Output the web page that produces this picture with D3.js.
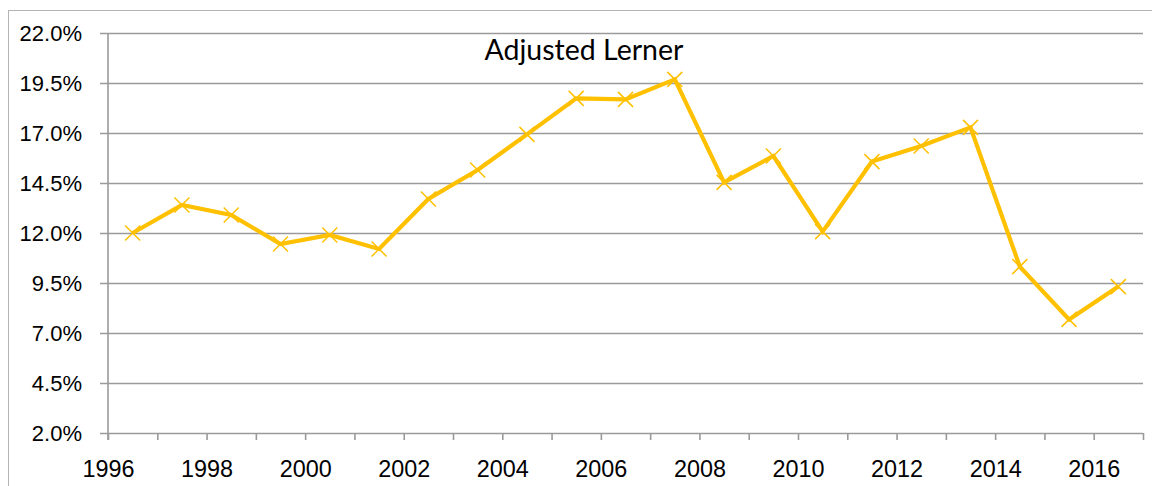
<!DOCTYPE html>
<html>
<head>
<meta charset="utf-8">
<script src="https://cdn.jsdelivr.net/npm/d3@7"></script>
<style>
  html, body { margin: 0; padding: 0; background: #fff; }
  svg { display: block; font-family: Lato, "Open Sans", sans-serif; }
</style>
</head>
<body>
<svg id="chart" width="1152" height="486"></svg>
<script>
// Adjusted Lerner index, annual observations (plotted mid-year)
const years = [1996, 1997, 1998, 1999, 2000, 2001, 2002, 2003, 2004, 2005, 2006,
               2007, 2008, 2009, 2010, 2011, 2012, 2013, 2014, 2015, 2016];
const lerner = [12.0, 13.4, 12.9, 11.45, 11.9, 11.2, 13.7, 15.15, 16.93, 18.73, 18.68,
                19.68, 14.53, 15.85, 12.07, 15.57, 16.35, 17.28, 10.32, 7.68, 9.32];
const yTicks = [2.0, 4.5, 7.0, 9.5, 12.0, 14.5, 17.0, 19.5, 22.0];
const xLabels = [1996, 1998, 2000, 2002, 2004, 2006, 2008, 2010, 2012, 2014, 2016];
const title = "Adjusted Lerner";

const svg = d3.select("#chart");
const margin = { left: 108, right: 9, top: 33, bottom: 53 };
const W = 1152, H = 486;

// outer chart frame
svg.append("rect")
  .attr("x", 8.5).attr("y", 10.5)
  .attr("width", 1160).attr("height", 490)
  .attr("fill", "none").attr("stroke", "#b3b3b3").attr("stroke-width", 1);

const x = d3.scaleLinear().domain([1996, 2017]).range([margin.left, W - margin.right]);
const y = d3.scaleLinear().domain([2, 22]).range([H - margin.bottom, margin.top]);

// horizontal gridlines with outside ticks
const yAxis = svg.append("g")
  .attr("transform", `translate(${margin.left},0)`)
  .call(d3.axisLeft(y).tickValues(yTicks)
    .tickSize(-(W - margin.right - margin.left))
    .tickSizeOuter(0)
    .tickFormat(d => d.toFixed(1) + "%"));
yAxis.select(".domain").remove();
yAxis.selectAll(".tick line")
  .attr("x1", -8)
  .attr("stroke", "#9a9a9a").attr("stroke-width", 1.6);
yAxis.selectAll(".tick text")
  .attr("x", -26)
  .attr("font-size", 22).attr("fill", "#000");

// vertical axis line
svg.append("line")
  .attr("x1", margin.left).attr("x2", margin.left)
  .attr("y1", y(22)).attr("y2", y(2) + 7)
  .attr("stroke", "#9a9a9a").attr("stroke-width", 1.6);

// x axis: ticks every year, labels every other year
const xAxis = svg.append("g")
  .attr("transform", `translate(0,${y(2)})`)
  .call(d3.axisBottom(x).tickValues(d3.range(1996, 2018))
    .tickSize(7).tickSizeOuter(0)
    .tickFormat(d => xLabels.includes(d) ? d : ""));
xAxis.select(".domain").remove();
xAxis.selectAll(".tick line").attr("stroke", "#9a9a9a").attr("stroke-width", 1.6);
xAxis.selectAll(".tick text")
  .attr("y", 27)
  .attr("font-size", 23.4).attr("fill", "#000");

// series line
const pts = years.map((yr, i) => [x(yr + 0.5), y(lerner[i])]);
svg.append("path")
  .datum(pts)
  .attr("d", d3.line())
  .attr("fill", "none")
  .attr("stroke", "#FFC000")
  .attr("stroke-width", 4.2)
  .attr("stroke-linejoin", "miter");

// x-shaped markers
const m = 7.5;
svg.append("g").selectAll("path")
  .data(pts)
  .join("path")
  .attr("d", d => `M${d[0]-m},${d[1]-m}L${d[0]+m},${d[1]+m}M${d[0]-m},${d[1]+m}L${d[0]+m},${d[1]-m}`)
  .attr("stroke", "#FFC000").attr("stroke-width", 1.5).attr("fill", "none");

// chart title inside plot area
svg.append("text")
  .attr("x", 584).attr("y", 60)
  .attr("text-anchor", "middle")
  .attr("font-size", 28.5).attr("fill", "#000")
  .text(title);
</script>
</body>
</html>
